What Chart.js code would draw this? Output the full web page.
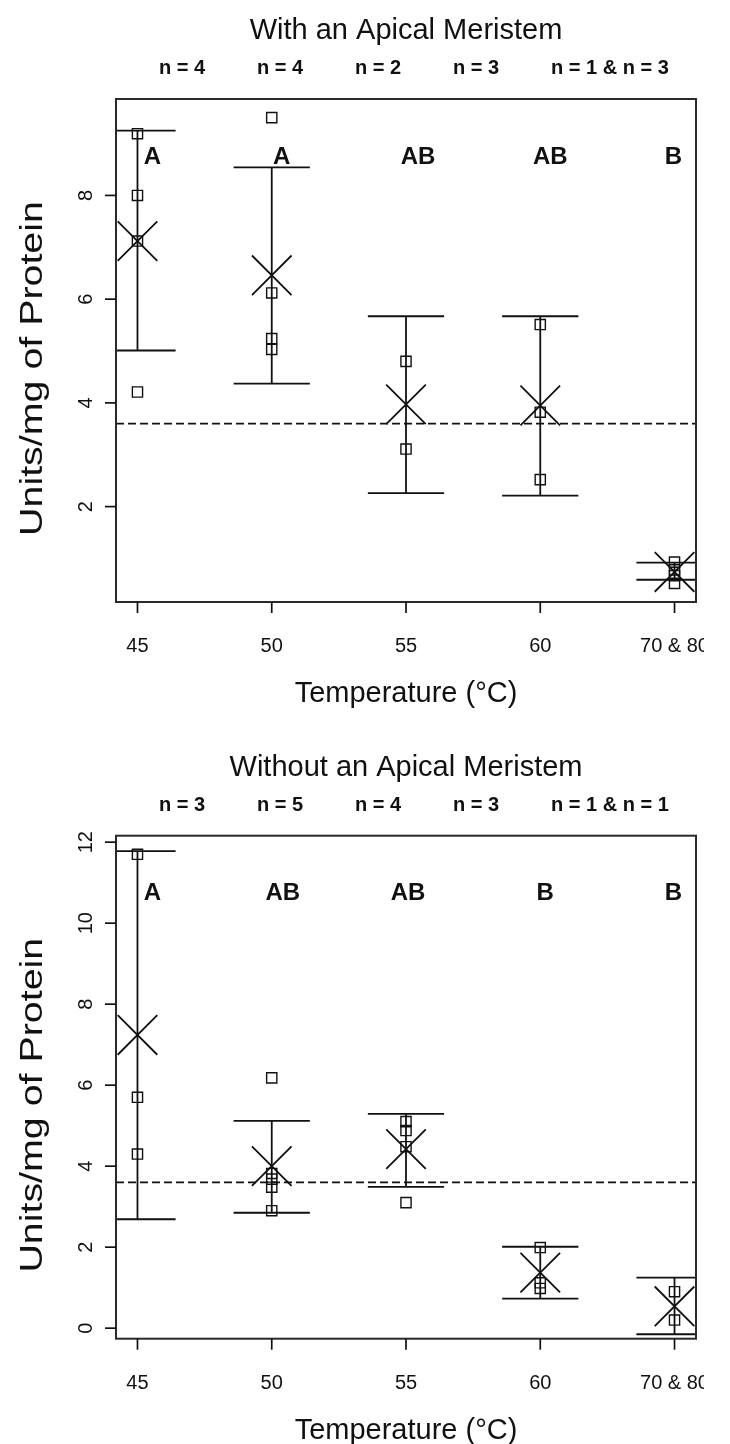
<!DOCTYPE html>
<html>
<head>
<meta charset="utf-8">
<script src="https://cdn.jsdelivr.net/npm/chart.js@4.4.0/dist/chart.umd.min.js"></script>
<style>
  html, body { margin: 0; padding: 0; background: #fff; }
  body { width: 730px; height: 1444px; overflow: hidden; }
  canvas { display: block; }
</style>
</head>
<body>
<canvas id="withChart" width="704" height="722"></canvas>
<canvas id="withoutChart" width="704" height="722"></canvas>
<script>
var TEMPS = ['45', '50', '55', '60', '70 & 80'];
var CONTROL_LEVEL = 3.6;

// with an apical meristem
var WITH_POINTS = [
  [9.19, 8.0, 7.12, 4.21],
  [9.5, 6.12, 5.24, 5.03],
  [4.8, 3.11],
  [5.51, 3.82, 2.52],
  [0.93, 0.78, 0.67, 0.52]
];
var WITH_MEAN = [7.12, 6.46, 3.97, 3.95, 0.74];
var WITH_UPPER = [9.25, 8.54, 5.67, 5.67, 0.92];
var WITH_LOWER = [5.01, 4.37, 2.26, 2.21, 0.59];
var WITH_N = ['n = 4', 'n = 4', 'n = 2', 'n = 3', 'n = 1 & n = 3'];
var WITH_GROUPS = ['A', 'A', 'AB', 'AB', 'B'];
var WITH_YTICKS = [2, 4, 6, 8];

// without an apical meristem
var WITHOUT_POINTS = [
  [11.7, 5.7, 4.3],
  [6.18, 3.82, 3.68, 3.48, 2.9],
  [5.1, 4.88, 4.48, 3.1],
  [1.99, 1.12, 0.98],
  [0.9, 0.2]
];
var WITHOUT_MEAN = [7.24, 4.0, 4.42, 1.37, 0.54];
var WITHOUT_UPPER = [11.78, 5.12, 5.29, 2.01, 1.25];
var WITHOUT_LOWER = [2.69, 2.85, 3.49, 0.73, -0.15];
var WITHOUT_N = ['n = 3', 'n = 5', 'n = 4', 'n = 3', 'n = 1 & n = 1'];
var WITHOUT_GROUPS = ['A', 'AB', 'AB', 'B', 'B'];
var WITHOUT_YTICKS = [0, 2, 4, 6, 8, 10, 12];

var INK = '#111';
var FONT = '"Liberation Sans", Arial, sans-serif';
var CAP = 0.284; // half width of the error bar caps, in categories

function buildPanel(id, p) {
  var squares = [], means = [], bars = [];
  TEMPS.forEach(function (t, i) {
    p.points[i].forEach(function (v) { squares.push({x: i, y: v}); });
    means.push({x: i, y: p.mean[i]});
    bars.push({x: i, y: p.lower[i]}, {x: i, y: p.upper[i]}, {x: i, y: null});
    bars.push({x: i - CAP, y: p.upper[i]}, {x: i + CAP, y: p.upper[i]}, {x: i, y: null});
    bars.push({x: i - CAP, y: p.lower[i]}, {x: i + CAP, y: p.lower[i]}, {x: i, y: null});
  });

  // R style axis limits: data range plus 4%
  var all = p.points.flat();
  var lo = Math.min.apply(null, all), hi = Math.max.apply(null, all);
  var pad = (hi - lo) * 0.04;
  var xMin = -0.16, xMax = TEMPS.length - 1 + 0.16;

  var decor = {
    id: 'decor',
    afterDatasetsDraw: function (chart) {
      var ctx = chart.ctx, a = chart.chartArea;
      var xs = chart.scales.x, ys = chart.scales.y;
      ctx.save();
      ctx.fillStyle = INK;

      // box
      ctx.lineWidth = 2;
      ctx.strokeStyle = '#2a2a2a';
      ctx.strokeRect(a.left, a.top, a.right - a.left, a.bottom - a.top);

      // x ticks
      ctx.lineWidth = 1.7;
      ctx.strokeStyle = INK;
      ctx.font = '20px ' + FONT;
      ctx.textAlign = 'center';
      ctx.textBaseline = 'alphabetic';
      TEMPS.forEach(function (t, i) {
        var px = xs.getPixelForValue(i);
        ctx.beginPath();
        ctx.moveTo(px, a.bottom);
        ctx.lineTo(px, a.bottom + 11);
        ctx.stroke();
        ctx.fillText(t, px, a.bottom + 50);
      });

      // y ticks, labels parallel to the axis
      p.yticks.forEach(function (v) {
        var py = ys.getPixelForValue(v);
        ctx.beginPath();
        ctx.moveTo(a.left - 11, py);
        ctx.lineTo(a.left, py);
        ctx.stroke();
        ctx.save();
        ctx.translate(a.left - 31, py);
        ctx.rotate(-Math.PI / 2);
        ctx.fillText(String(v), 0, 7.2);
        ctx.restore();
      });

      // axis titles
      ctx.font = '29px ' + FONT;
      ctx.fillText('Temperature (°C)', (a.left + a.right) / 2, a.bottom + 100);
      ctx.save();
      ctx.translate(42, (a.top + a.bottom) / 2 + 18);
      ctx.rotate(-Math.PI / 2);
      ctx.scale(1.27, 1);
      ctx.font = '31px ' + FONT;
      ctx.fillText('Units/mg of Protein', 0, 0);
      ctx.restore();

      // main title
      ctx.font = '29px ' + FONT;
      ctx.fillText(p.title, (a.left + a.right) / 2, a.top - 60);

      // sample sizes
      ctx.font = 'bold 20px ' + FONT;
      ctx.textAlign = 'left';
      p.n.forEach(function (s, k) {
        ctx.fillText(s, a.left + 43 + k * 98, a.top - 25);
      });

      // group letters
      ctx.font = 'bold 24px ' + FONT;
      ctx.textAlign = 'center';
      p.groups.forEach(function (g, i) {
        ctx.fillText(g, xs.getPixelForValue(i) + p.letterShift[i], a.top + 64.6);
      });
      ctx.restore();
    }
  };

  return new Chart(document.getElementById(id), {
    type: 'scatter',
    data: {
      datasets: [
        {
          label: 'Mean',
          data: means,
          pointStyle: 'crossRot',
          pointRadius: 28,
          pointBorderWidth: 1.8,
          pointBorderColor: INK,
          pointBackgroundColor: 'transparent',
          clip: 0
        },
        {
          label: 'Samples',
          data: squares,
          pointStyle: 'rect',
          pointRadius: 7.2,
          pointBorderWidth: 1.4,
          pointBorderColor: INK,
          pointBackgroundColor: 'transparent',
          clip: 0
        },
        {
          label: 'Error bars',
          data: bars,
          showLine: true,
          spanGaps: false,
          borderColor: INK,
          borderWidth: 1.8,
          pointRadius: 0,
          clip: 0
        },
        {
          label: 'Control',
          data: [{x: xMin, y: CONTROL_LEVEL}, {x: xMax, y: CONTROL_LEVEL}],
          showLine: true,
          borderColor: INK,
          borderWidth: 1.7,
          borderDash: [8, 4],
          pointRadius: 0,
          clip: 0
        }
      ]
    },
    options: {
      responsive: false,
      animation: false,
      events: [],
      layout: {
        autoPadding: false,
        padding: {left: 116, right: 8, top: 99 + p.dy, bottom: 120 - p.dy}
      },
      plugins: {
        legend: {display: false},
        tooltip: {enabled: false}
      },
      scales: {
        x: {type: 'linear', display: false, min: xMin, max: xMax},
        y: {type: 'linear', display: false, min: lo - pad, max: hi + pad}
      }
    },
    plugins: [decor]
  });
}

buildPanel('withChart', {
  title: 'With an Apical Meristem',
  points: WITH_POINTS, mean: WITH_MEAN, upper: WITH_UPPER, lower: WITH_LOWER,
  n: WITH_N, groups: WITH_GROUPS, yticks: WITH_YTICKS,
  letterShift: [15, 10, 12, 10, -1],
  dy: 0
});

buildPanel('withoutChart', {
  title: 'Without an Apical Meristem',
  points: WITHOUT_POINTS, mean: WITHOUT_MEAN, upper: WITHOUT_UPPER, lower: WITHOUT_LOWER,
  n: WITHOUT_N, groups: WITHOUT_GROUPS, yticks: WITHOUT_YTICKS,
  letterShift: [15, 11, 2, 5, -1],
  dy: 14.7
});
</script>
</body>
</html>
